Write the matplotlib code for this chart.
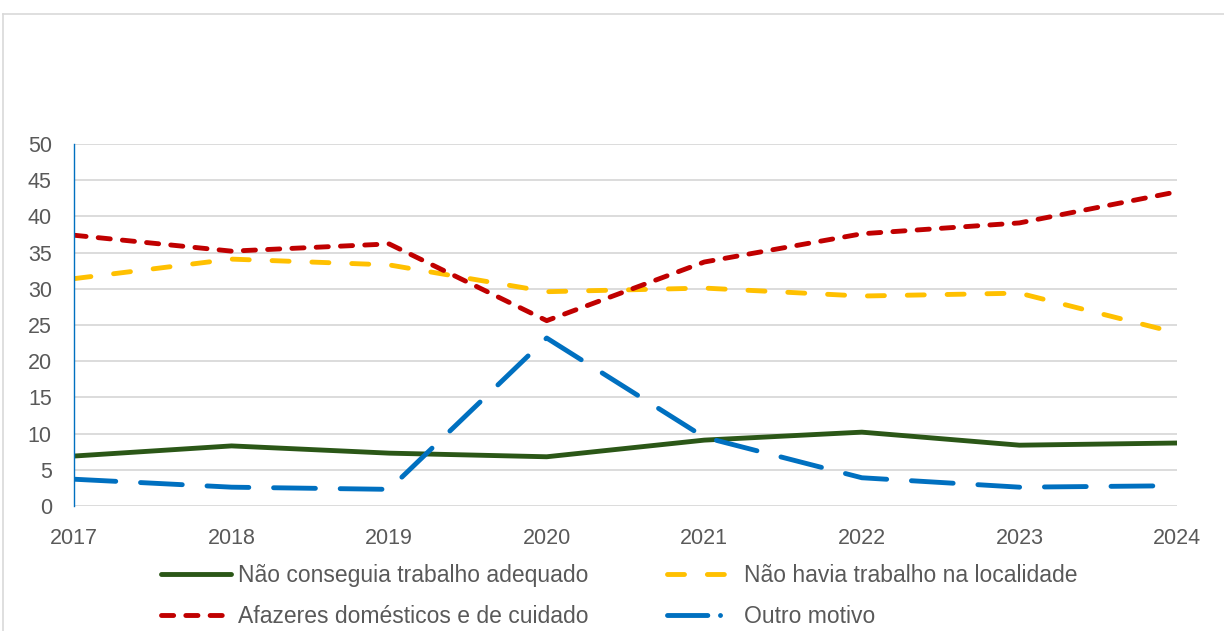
import matplotlib
matplotlib.use('Agg')
import matplotlib.pyplot as plt
import matplotlib.ticker as ticker
from matplotlib.lines import Line2D

# ─── DATA ────────────────────────────────────────────────────────────────────
anos = [2017, 2018, 2019, 2020, 2021, 2022, 2023, 2024]

nao_conseguia = [6.9, 8.3, 7.3, 6.8, 9.1, 10.2, 8.4, 8.7]
nao_havia     = [31.4, 34.1, 33.3, 29.6, 30.1, 29.0, 29.4, 23.9]
afazeres      = [37.4, 35.2, 36.2, 25.6, 33.7, 37.6, 39.1, 43.4]
outro         = [3.7, 2.6, 2.3, 23.2, 9.5, 3.9, 2.6, 2.8]

labels = ['Não conseguia trabalho adequado',
          'Não havia trabalho na localidade',
          'Afazeres domésticos e de cuidado',
          'Outro motivo']

# ─── STYLE ───────────────────────────────────────────────────────────────────
GRAY_TXT = '#595959'
LW = 3.5

fig = plt.figure(figsize=(12.24, 6.31), dpi=100)
ax = fig.add_axes([74 / 1224, 1 - 506 / 631, (1177 - 74) / 1224, (506 - 144) / 631])

l1, = ax.plot(anos, nao_conseguia, color='#2B5717', lw=LW, solid_capstyle='round',
              solid_joinstyle='round')
l2, = ax.plot(anos, nao_havia, color='#FFC000', lw=LW, dash_capstyle='round',
              dash_joinstyle='round')
l2.set_dashes((3.5, 4.7))
l3, = ax.plot(anos, afazeres, color='#C00000', lw=LW, dash_capstyle='round',
              dash_joinstyle='round')
l3.set_dashes((2.5, 2.5))
l4, = ax.plot(anos, outro, color='#0070C0', lw=LW, dash_capstyle='round',
              dash_joinstyle='round')
l4.set_dashes((8.6, 5.1))

# ─── AXES ────────────────────────────────────────────────────────────────────
ax.set_xlim(2017, 2024)
ax.set_ylim(0, 50)
ax.yaxis.set_major_locator(ticker.MultipleLocator(5))
ax.set_xticks(anos)
ax.grid(True, axis='y', color='#d9d9d9', lw=1.3)
ax.set_axisbelow(True)
for s in ['top', 'right', 'bottom']:
    ax.spines[s].set_visible(False)
ax.spines['left'].set_color('#0070C0')
ax.spines['left'].set_linewidth(1.0)
ax.tick_params(length=0, labelsize=15.5, labelcolor=GRAY_TXT)
ax.tick_params(axis='x', pad=16)
ax.tick_params(axis='y', pad=16)
for t in ax.get_xticklabels() + ax.get_yticklabels():
    t.set_family(['Liberation Sans', 'DejaVu Sans'])

# ─── LEGEND ──────────────────────────────────────────────────────────────────
h4 = Line2D([], [], color='#0070C0', lw=LW, dash_capstyle='round')
h4.set_dashes((8.3, 2.6, 0.01, 12.0))
leg = fig.legend([l1, l3, l2, h4], [labels[0], labels[2], labels[1], labels[3]],
                 ncol=2, loc='center', bbox_to_anchor=(0.506, 1 - 596 / 631),
                 frameon=False, handlelength=3.05, handletextpad=0.3,
                 columnspacing=3.45, labelspacing=0.75,
                 prop={'family': ['Liberation Sans', 'DejaVu Sans'], 'size': 16.5})
for t in leg.get_texts():
    t.set_color(GRAY_TXT)

# ─── CHART FRAME ─────────────────────────────────────────────────────────────
fig.add_artist(Line2D([3 / 1224, 1], [1 - 14 / 631, 1 - 14 / 631],
                      color='#d9d9d9', lw=1.2, transform=fig.transFigure))
fig.add_artist(Line2D([3 / 1224, 3 / 1224], [0, 1 - 14 / 631],
                      color='#d9d9d9', lw=1.2, transform=fig.transFigure))

fig.savefig('out.png', dpi=100, facecolor='white')
